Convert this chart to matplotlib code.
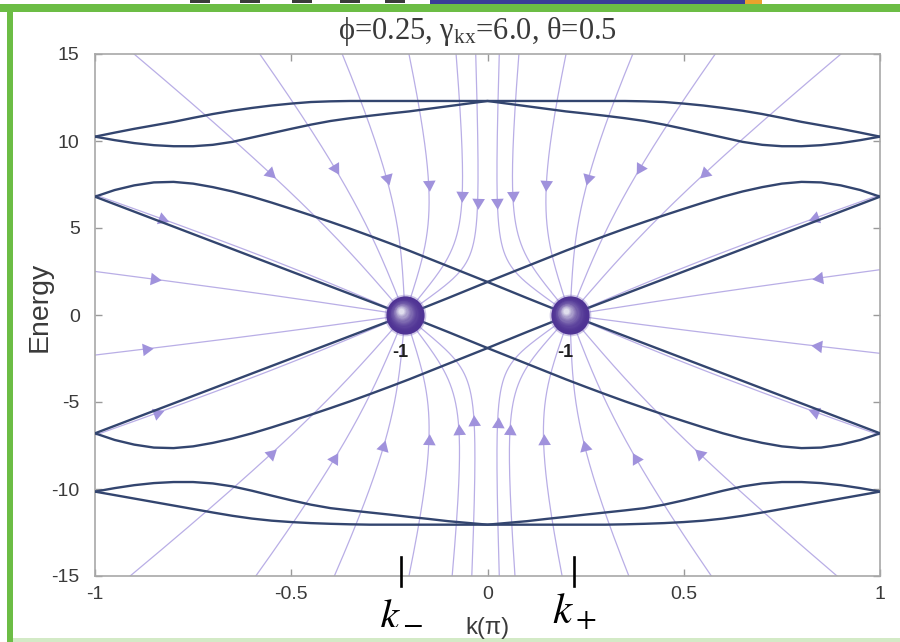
import numpy as np
import matplotlib.pyplot as plt
from matplotlib.patches import Rectangle
from matplotlib.transforms import offset_copy

plt.rcParams['font.family'] = ['Liberation Sans', 'DejaVu Sans']
plt.rcParams['mathtext.fontset'] = 'custom'
plt.rcParams['mathtext.rm'] = 'Liberation Serif'
plt.rcParams['mathtext.it'] = 'Liberation Serif:italic'

# ---- band structure, E(k) with k in units of pi
k_grid = [-1.0, -0.95, -0.9, -0.85, -0.8, -0.75, -0.7, -0.65, -0.6, -0.55, -0.5,
          -0.45, -0.4, -0.35, -0.3, -0.25, -0.2, -0.15, -0.1, -0.05, 0.0,
          0.05, 0.1, 0.15, 0.2, 0.25, 0.3, 0.35, 0.4, 0.45, 0.5,
          0.55, 0.6, 0.65, 0.7, 0.75, 0.8, 0.85, 0.9, 0.95, 1.0]
# one branch of the crossing middle bands; the other three are its mirror images
cross_band = [-6.8, -6.37, -5.94, -5.51, -5.08, -4.65, -4.22, -3.79, -3.36, -2.93, -2.5,
              -2.07, -1.64, -1.21, -0.78, -0.35, 0.08, 0.53, 0.98, 1.44, 1.9,
              2.35, 2.8, 3.25, 3.7, 4.13, 4.55, 4.96, 5.35, 5.73, 6.1,
              6.46, 6.8, 7.1, 7.35, 7.55, 7.65, 7.62, 7.45, 7.18, 6.8]
# outer bands are even in k: values for k = -1 ... 0
top_outer = [10.25, 10.48, 10.7, 10.9, 11.1, 11.33, 11.55, 11.74, 11.9, 12.04, 12.15,
             12.24, 12.28, 12.3, 12.3, 12.3, 12.3, 12.3, 12.3, 12.3, 12.3]
top_inner = [10.25, 10.05, 9.88, 9.76, 9.7, 9.7, 9.78, 9.95, 10.2, 10.45, 10.7,
             10.94, 11.15, 11.31, 11.45, 11.58, 11.7, 11.85, 12.0, 12.15, 12.3]
bot_inner = [-10.15, -9.95, -9.78, -9.66, -9.6, -9.6, -9.68, -9.85, -10.1, -10.38, -10.65,
             -10.9, -11.1, -11.23, -11.35, -11.47, -11.6, -11.72, -11.85, -11.95, -12.05]
bot_outer = [-10.15, -10.35, -10.55, -10.75, -10.95, -11.15, -11.35, -11.54, -11.7, -11.82, -11.9,
             -11.96, -12.0, -12.03, -12.05, -12.05, -12.05, -12.05, -12.05, -12.05, -12.05]

# Weyl points and their charges
weyl_k = [-0.21, 0.21]
weyl_E = [0.0, 0.0]
weyl_charge = ['-1', '-1']
tick_k = [-0.22, 0.22]
tick_names = [r'$k_-$', r'$k_+$']

# field lines: where they enter the frame and where the arrow sits
top_seed_k = [-0.90, -0.58, -0.37, -0.20, -0.08, -0.03, 0.03, 0.08, 0.20, 0.37, 0.58, 0.90]
top_arrow_E = [8.2, 8.5, 7.9, 7.6, 6.9, 6.5, 6.5, 6.9, 7.6, 7.9, 8.5, 8.2]
bot_seed_k = [-0.91, -0.59, -0.39, -0.20, -0.09, -0.04, 0.03, 0.07, 0.19, 0.36, 0.57, 0.89]
bot_arrow_E = [-8.0, -8.3, -7.6, -7.3, -6.7, -6.2, -6.3, -6.7, -7.3, -7.6, -8.3, -8.0]
left_seed_E = [6.9, 2.5, -2.3, -6.9]
left_arrow_k = [-0.83, -0.85, -0.87, -0.845]
right_seed_E = [6.9, 2.6, -2.2, -6.9]
right_arrow_k = [0.835, 0.847, 0.843, 0.835]

band_col = '#33456f'
flow_col = '#b9aee6'
arrow_col = '#a092dc'

fig = plt.figure(figsize=(9, 6.42), dpi=100)
W, H = 900, 642


def px_rect(x0, y0, x1, y1, color):
    fig.add_artist(Rectangle((x0 / W, 1 - y1 / H), (x1 - x0) / W, (y1 - y0) / H,
                             transform=fig.transFigure, color=color, lw=0, zorder=0))


# frame around the panel
px_rect(0, 4, 900, 12, '#6cbd45')
px_rect(7, 12, 13, 642, '#6cbd45')
px_rect(13, 638, 900, 642, '#d3eac6')
px_rect(430, 0, 745, 4, '#3a3d98')
px_rect(745, 0, 762, 4, '#e9a22c')
for x0 in [190, 240, 292, 340, 385]:
    px_rect(x0, 0, x0 + 20, 2.5, '#3a3a3a')

ax = fig.add_axes([95 / W, 66 / H, 785 / W, 522 / H])
ax.set_xlim(-1, 1)
ax.set_ylim(-15, 15)

k = np.array(k_grid)
c = np.array(cross_band)
for band in [c, c[::-1], -c, -c[::-1]]:
    ax.plot(k, band, color=band_col, lw=1.7, zorder=4)
for even in [top_outer, top_inner, bot_inner, bot_outer]:
    ee = np.concatenate([even, even[-2::-1]])
    ax.plot(k, ee, color=band_col, lw=1.7, zorder=4)

# field lines of the two sinks, traced in screen pixels
to_px = ax.transData.transform
from_px = ax.transData.inverted().transform
sink_px = to_px(np.column_stack([weyl_k, weyl_E]))


def pull(p):
    d = sink_px - p
    r2 = (d ** 2).sum(axis=1)
    v = (d / r2[:, None] ** 2).sum(axis=0)
    return v / np.hypot(v[0], v[1])


def field_line(k0, e0, step=1.0):
    p = to_px([[k0, e0]])[0]
    pts = [p]
    for _ in range(6000):
        r = np.hypot(*(sink_px - p).T)
        if r.min() < 1.5:
            pts.append(sink_px[r.argmin()])
            break
        h = min(step, 0.5 * r.min())
        mid = p + 0.5 * h * pull(p)
        p = p + h * pull(mid)
        pts.append(p)
    return from_px(np.array(pts))


def draw_flow(k0, e0, axis, level):
    line = field_line(k0, e0)
    ax.plot(line[:, 0], line[:, 1], color=flow_col, lw=0.9, zorder=2)
    vals = line[:, axis]
    i = np.argmax(vals <= level) if vals[0] > level else np.argmax(vals >= level)
    i = int(np.clip(i, 1, len(line) - 2))
    d = to_px(line[i + 1:i + 2])[0] - to_px(line[i - 1:i])[0]
    ang = np.degrees(np.arctan2(d[1], d[0])) - 90
    ax.plot(line[i, 0], line[i, 1], marker=(3, 0, ang), ms=10.5,
            color=arrow_col, mec='none', zorder=3)


for sk, ae in zip(top_seed_k, top_arrow_E):
    draw_flow(sk, 14.99, 1, ae)
for sk, ae in zip(bot_seed_k, bot_arrow_E):
    draw_flow(sk, -14.99, 1, ae)
for se, ak in zip(left_seed_E, left_arrow_k):
    draw_flow(-0.999, se, 0, ak)
for se, ak in zip(right_seed_E, right_arrow_k):
    draw_flow(0.999, se, 0, ak)

# shaded spheres at the Weyl points
base = np.array([0.31, 0.20, 0.58])
light = np.array([0.88, 0.87, 0.93])
n_layers = 16
for wk, we, q in zip(weyl_k, weyl_E, weyl_charge):
    ax.plot(wk, we, 'o', ms=30, color='#7a66bb', alpha=0.35, mec='none', zorder=6)
    for i in range(n_layers):
        f = i / (n_layers - 1)
        tr = offset_copy(ax.transData, fig=fig, x=-3.0 * f, y=3.0 * f, units='points')
        col = base + (light - base) * f ** 2.2
        ax.plot(wk, we, 'o', ms=27.5 * (1 - 0.85 * f), color=col, mec='none',
                transform=tr, zorder=7)
    ax.text(wk - 0.012, we - 2.15, q, fontsize=13, fontweight='bold', color='#1e1e1e',
            ha='center', va='center', zorder=8)

# marks for k_- and k_+
for tk, name in zip(tick_k, tick_names):
    ax.plot([tk, tk], [-13.9, -15.55], color='black', lw=1.9, clip_on=False, zorder=9)
    ax.text(tk, -17.1, name, fontsize=31, math_fontfamily='stix',
            ha='center', va='center', clip_on=False)

ax.set_xticks([-1, -0.5, 0, 0.5, 1])
ax.set_xticklabels(['-1', '-0.5', '0', '0.5', '1'])
ax.set_yticks([-15, -10, -5, 0, 5, 10, 15])
ax.set_yticklabels(['-15', '-10', '-5', '0', '5', '10', '15'])
ax.tick_params(direction='in', length=5, width=1, color='#9a9a9a',
               labelsize=14, labelcolor='#3a3a3a', top=True, right=True)
ax.tick_params(axis='x', pad=7)
ax.tick_params(axis='y', pad=11)
for s in ax.spines.values():
    s.set_color('#a8a8a8')
    s.set_linewidth(1.2)

fig.text(487 / W, 1 - 628 / H, 'k(π)', fontsize=17, color='#3a3a3a',
         ha='center', va='center')
fig.text(40 / W, 1 - 307 / H, 'Energy', fontsize=20.5, color='#3a3a3a',
         rotation=90, ha='center', va='center')
fig.text(478 / W, 1 - 31 / H, 'ϕ=0.25, γ$_{\\mathrm{kx}}$=6.0, θ=0.5',
         family=['Liberation Serif', 'DejaVu Serif'], fontsize=22, color='#3a3a3a',
         ha='center', va='center')

fig.savefig('out.png', dpi=100, facecolor='white')
